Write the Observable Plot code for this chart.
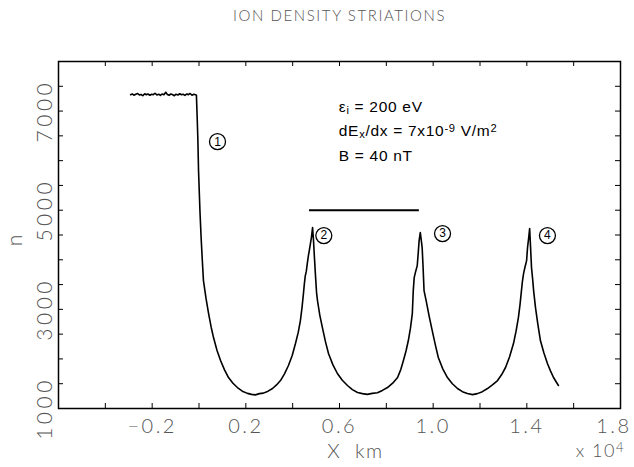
<!DOCTYPE html>
<html>
<head>
<meta charset="utf-8">
<script src="https://cdn.jsdelivr.net/npm/d3@7"></script>
<script src="https://cdn.jsdelivr.net/npm/@observablehq/plot@0.6"></script>
<style>
  body { margin: 0; background: #fff; }
  #chart svg { display: block; }
</style>
</head>
<body>
<div id="chart"></div>
<script>
// Ion density profile n along X (units of 10^4 km)
const profileX = [
  -0.292, -0.285, -0.278, -0.270, -0.262, -0.255, -0.248, -0.240, -0.232, -0.225,
  -0.218, -0.210, -0.202, -0.195, -0.188, -0.180, -0.172, -0.165, -0.158, -0.150,
  -0.142, -0.135, -0.128, -0.120, -0.112, -0.105, -0.098, -0.090, -0.082, -0.075,
  -0.068, -0.060, -0.052, -0.045, -0.038, -0.030, -0.022, -0.015, -0.011,
  -0.008, -0.005, -0.002, 0.004, 0.009, 0.014, 0.019, 0.030, 0.041, 0.052,
  0.062, 0.077, 0.092, 0.109, 0.126, 0.145, 0.164, 0.185, 0.207, 0.224,
  0.241, 0.258, 0.275, 0.295, 0.314, 0.331, 0.348, 0.365, 0.382, 0.398,
  0.412, 0.424, 0.433, 0.440, 0.446, 0.450, 0.454, 0.458, 0.463, 0.467,
  0.471, 0.476, 0.480, 0.485, 0.489, 0.493, 0.498, 0.502, 0.506, 0.516,
  0.527, 0.540, 0.553, 0.572, 0.591, 0.612, 0.634, 0.655, 0.677, 0.698,
  0.719, 0.740, 0.762, 0.783, 0.805, 0.827, 0.848, 0.862, 0.873, 0.884,
  0.894, 0.903, 0.911, 0.915, 0.919, 0.925, 0.932, 0.936, 0.940, 0.945,
  0.949, 0.953, 0.957, 0.961, 0.970, 0.983, 0.996, 1.009, 1.022, 1.041,
  1.061, 1.082, 1.104, 1.125, 1.146, 1.168, 1.189, 1.210, 1.232, 1.253,
  1.275, 1.292, 1.309, 1.326, 1.343, 1.354, 1.364, 1.371, 1.377, 1.381,
  1.386, 1.392, 1.399, 1.403, 1.408, 1.412, 1.416, 1.420, 1.425, 1.429,
  1.437, 1.447, 1.458, 1.473, 1.488, 1.501, 1.514, 1.525, 1.535
];
const profileN = [
  7330, 7345, 7320, 7340, 7355, 7325, 7335, 7310, 7350, 7330,
  7345, 7320, 7340, 7330, 7360, 7325, 7340, 7315, 7345, 7330,
  7380, 7335, 7320, 7345, 7330, 7310, 7340, 7325, 7350, 7330,
  7340, 7315, 7345, 7330, 7355, 7320, 7340, 7330, 7320,
  6900, 6450, 5800, 4990, 4450, 4000, 3580, 3220, 2915, 2640,
  2431, 2170, 1968, 1780, 1625, 1510, 1423, 1350, 1305, 1285,
  1275, 1300, 1310, 1350, 1403, 1475, 1564, 1700, 1867, 2070,
  2310, 2540, 2774, 3040, 3318, 3520, 3681, 3760, 3943, 4080,
  4185, 4330, 4447, 4649, 4387, 4044, 3641, 3339, 3177, 2880,
  2633, 2350, 2109, 1880, 1706, 1570, 1464, 1380, 1323, 1300,
  1285, 1305, 1318, 1365, 1423, 1510, 1625, 1790, 1968, 2160,
  2371, 2620, 2915, 3379, 3641, 3760, 3883, 4125, 4387, 4548,
  4400, 4246, 3843, 3379, 3177, 2860, 2572, 2290, 2028, 1800,
  1625, 1500, 1403, 1340, 1302, 1280, 1300, 1340, 1403, 1475,
  1564, 1680, 1827, 2040, 2310, 2560, 2835, 3100, 3379, 3560,
  3722, 3850, 3984, 4246, 4450, 4629, 4246, 3843, 3600, 3379,
  3036, 2700, 2371, 2120, 1907, 1760, 1625, 1540, 1464
];

// Axis ticks and labels
const xTickLabels = [-0.2, 0.2, 0.6, 1.0, 1.4];
const xEdgeLabel = [1.8];
const xMinorTicks = [-0.4, -0.2, 0.0, 0.2, 0.4, 0.6, 0.8, 1.0, 1.2, 1.4, 1.6];
const yTickLabels = [1000, 3000, 5000, 7000];
const yMinorTicks = [1500, 2000, 2500, 3000, 3500, 4000, 4500, 5000, 5500, 6000, 6500, 7000, 7500];

// Striation wavelength bar between peaks 2 and 3
const barX1 = [0.472];
const barX2 = [0.941];
const barN = [5000];

// Circled peak markers
const markerLabels = ["1", "2", "3", "4"];
const markerX = [0.079, 0.533, 1.040, 1.488];
const markerN = [6383, 4488, 4528, 4488];

// Run parameters (_{..} subscript, ^{..} superscript)
const paramLines = ["ε_{i} = 200 eV", "dE_{x}/dx = 7x10^{-9} V/m^{2}", "B = 40 nT"];
const paramN = [7090, 6590, 6085];
const paramX = 0.597;

const titleText = "ION DENSITY STRIATIONS";

const profile = profileX.map((x, i) => ({x, n: profileN[i]}));
const bar = barX1.map((x1, i) => ({x1, x2: barX2[i], n: barN[i]}));
const markers = markerLabels.map((label, i) => ({label, x: markerX[i], n: markerN[i]}));
const params = paramLines.map((t, i) => ({t, n: paramN[i]}));

const W = 634, H = 467;
const mL = 58, mR = 14, mT = 61, mB = 59;
const innerW = W - mL - mR, innerH = H - mT - mB;
const tickLen = 5;

const lightFont = {fontFamily: "Lato, 'DejaVu Sans', sans-serif", fontWeight: 300, fill: "#555"};
const fmtX = d => (d < 0 ? "\u2212" + (-d).toFixed(1) : d.toFixed(1));

const chart = Plot.plot({
  width: W,
  height: H,
  marginLeft: mL,
  marginRight: mR,
  marginTop: mT,
  marginBottom: mB,
  style: {background: "#fff"},
  x: {domain: [-0.6, 1.8], axis: null},
  y: {domain: [1000, 8000], axis: null},
  marks: [
    Plot.frame({stroke: "black", strokeWidth: 1.5}),
    // inward ticks on all four sides
    Plot.tickX(xMinorTicks, {x: d => d, insetTop: innerH - tickLen, stroke: "black"}),
    Plot.tickX(xMinorTicks, {x: d => d, insetBottom: innerH - tickLen, stroke: "black"}),
    Plot.tickY(yMinorTicks, {y: d => d, insetRight: innerW - tickLen, stroke: "black"}),
    Plot.tickY(yMinorTicks, {y: d => d, insetLeft: innerW - tickLen, stroke: "black"}),
    // tick labels
    Plot.text(xTickLabels, {
      x: d => d, text: fmtX, frameAnchor: "bottom", dy: 18, lineAnchor: "middle",
      textAnchor: "middle", fontSize: 20, ...lightFont
    }),
    Plot.text(xEdgeLabel, {
      x: d => d, text: fmtX, frameAnchor: "bottom", dy: 18, dx: 11, lineAnchor: "middle",
      textAnchor: "end", fontSize: 20, ...lightFont
    }),
    Plot.text(yTickLabels, {
      y: d => d, text: d => String(d), frameAnchor: "left", dx: -13, rotate: -90,
      textAnchor: "middle", lineAnchor: "middle", fontSize: 21, ...lightFont
    }),
    // titles
    Plot.text([titleText], {
      frameAnchor: "top", dy: -45, lineAnchor: "middle", fontSize: 15, ...lightFont
    }),
    Plot.text(["X  km"], {
      x: [0.668], frameAnchor: "bottom", dy: 43, lineAnchor: "middle", textAnchor: "middle",
      fontSize: 20, ...lightFont
    }),
    Plot.text(["x 10^{4}"], {
      x: [1.714], frameAnchor: "bottom", dy: 43, lineAnchor: "middle", textAnchor: "middle",
      fontSize: 18, ...lightFont
    }),
    Plot.text(["n"], {
      y: [4390], frameAnchor: "left", dx: -43, rotate: -90, lineAnchor: "middle",
      textAnchor: "middle", fontSize: 21, ...lightFont
    }),
    // density profile
    Plot.line(profile, {x: "x", y: "n", stroke: "black", strokeWidth: 1.6, strokeLinejoin: "round"}),
    // wavelength bar
    Plot.ruleY(bar, {x1: "x1", x2: "x2", y: "n", stroke: "black", strokeWidth: 2}),
    // circled peak numbers
    Plot.dot(markers, {x: "x", y: "n", r: 8, stroke: "black", strokeWidth: 1.3, fill: "white"}),
    Plot.text(markers, {
      x: "x", y: "n", text: "label", fontSize: 12, fill: "black",
      fontFamily: "'Liberation Sans', sans-serif", lineAnchor: "middle"
    }),
    // parameter block
    Plot.text(params, {
      x: () => paramX, y: "n", text: "t", textAnchor: "start", lineAnchor: "middle",
      fontSize: 15.5, fill: "black", fontFamily: "'Liberation Sans', Arial, sans-serif"
    })
  ]
});

// Turn _{..} and ^{..} into sub/superscript tspans
function richify(el) {
  const raw = el.textContent;
  el.textContent = "";
  const re = /([_^])\{([^}]*)\}|([^_^]+)/g;
  let m;
  while ((m = re.exec(raw))) {
    const t = document.createElementNS("http://www.w3.org/2000/svg", "tspan");
    if (m[3] !== undefined) {
      t.textContent = m[3];
    } else {
      t.textContent = m[2];
      t.setAttribute("font-size", "72%");
      t.setAttribute("baseline-shift", m[1] === "^" ? "40%" : "-22%");
    }
    el.appendChild(t);
  }
}

// Wide letter spacing for the stroked-style labels
const xLabelSet = new Set(xTickLabels.concat(xEdgeLabel).map(fmtX));
const yLabelSet = new Set(yTickLabels.map(String));
chart.querySelectorAll("text").forEach(el => {
  const s = el.textContent;
  if (yLabelSet.has(s)) el.style.letterSpacing = "3.5px";
  else if (xLabelSet.has(s)) el.style.letterSpacing = "2.5px";
  else if (s === titleText) el.style.letterSpacing = "1.6px";
  else if (s.startsWith("X ") || s.startsWith("x ")) el.style.letterSpacing = "1.5px";
  else if (paramLines.includes(s)) el.style.letterSpacing = "0.7px";
  if (/[_^]\{/.test(s)) richify(el);
});

document.getElementById("chart").appendChild(chart);
</script>
</body>
</html>
